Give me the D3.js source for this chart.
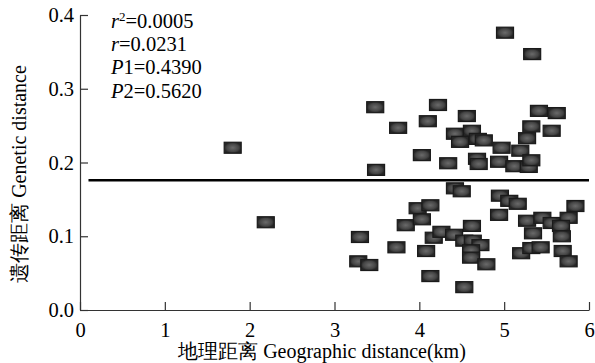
<!DOCTYPE html>
<html>
<head>
<meta charset="utf-8">
<script src="https://cdn.jsdelivr.net/npm/d3@7/dist/d3.min.js"></script>
<style>
  body { margin: 0; background: #fff; }
  text { font-family: "Liberation Serif", "Times New Roman", serif; fill: #000; }
</style>
</head>
<body>
<div id="chart"></div>
<script>
// DATA: geographic distance (km) vs genetic distance
const upperX = [1.80, 3.48, 3.49, 3.75, 4.03, 4.10, 4.22, 4.34, 4.42, 4.48, 4.56, 4.62, 4.69, 4.76, 4.68,
  4.70, 4.94, 4.97, 5.01, 5.12, 5.19, 5.27, 5.29, 5.32, 5.32, 5.33, 5.41, 5.56, 5.62];
const upperY = [0.220, 0.275, 0.190, 0.247, 0.210, 0.256, 0.278, 0.199, 0.239, 0.228, 0.263, 0.243, 0.232, 0.230, 0.205,
  0.198, 0.201, 0.220, 0.376, 0.195, 0.216, 0.233, 0.194, 0.249, 0.203, 0.347, 0.270, 0.243, 0.267];
const lowerX = [2.19, 3.30, 3.28, 3.41, 3.73, 3.84, 3.98, 4.13, 4.03, 4.08, 4.13, 4.17, 4.26, 4.41, 4.42,
  4.50, 4.53, 4.62, 4.63, 4.72, 4.61, 4.61, 4.79, 4.53, 4.95, 5.06, 5.16, 4.94, 5.27, 5.45,
  5.56, 5.76, 5.67, 5.68, 5.34, 5.20, 5.32, 5.43, 5.69, 5.76, 5.84];
const lowerY = [0.119, 0.099, 0.066, 0.061, 0.085, 0.115, 0.138, 0.142, 0.123, 0.080, 0.046, 0.098, 0.106, 0.102, 0.165,
  0.161, 0.094, 0.114, 0.094, 0.088, 0.081, 0.071, 0.062, 0.031, 0.155, 0.148, 0.144, 0.129, 0.121, 0.125,
  0.118, 0.125, 0.114, 0.100, 0.104, 0.077, 0.084, 0.085, 0.080, 0.066, 0.141];
const regX = [0.1, 6.0];
const regY = [0.176, 0.176];
const xTicks = [0, 1, 2, 3, 4, 5, 6];
const yTicks = [0.0, 0.1, 0.2, 0.3, 0.4];
const stats = [
  { sym: 'r', sup: '2', val: '=0.0005' },
  { sym: 'r', sup: '', val: '=0.0231' },
  { sym: 'P', sup: '', val: '1=0.4390' },
  { sym: 'P', sup: '', val: '2=0.5620' },
];

const W = 595, H = 363;
const m = { top: 15, right: 6, bottom: 53, left: 80 };

const svg = d3.select('#chart').append('svg').attr('width', W).attr('height', H);

// MARKER GRADIENT
const defs = svg.append('defs');
const grad = defs.append('radialGradient').attr('id', 'mk');
grad.append('stop').attr('offset', '0%').attr('stop-color', '#6a6a6a');
grad.append('stop').attr('offset', '70%').attr('stop-color', '#454545');
grad.append('stop').attr('offset', '100%').attr('stop-color', '#262626');

// SCALES
const x = d3.scaleLinear().domain([0, 6]).range([m.left, W - m.right]);
const y = d3.scaleLinear().domain([0, 0.4]).range([H - m.bottom, m.top]);

// AXES
const gx = svg.append('g')
  .attr('transform', `translate(0,${y(0)})`)
  .call(d3.axisBottom(x).tickValues(xTicks).tickFormat(d3.format('d')).tickSizeInner(-8).tickSizeOuter(0).tickPadding(12));
const gy = svg.append('g')
  .attr('transform', `translate(${x(0)},0)`)
  .call(d3.axisLeft(y).tickValues(yTicks).tickFormat(d3.format('.1f')).tickSizeInner(-8).tickSizeOuter(0).tickPadding(6));

[gx, gy].forEach(g => {
  g.select('.domain').attr('stroke', '#333').attr('stroke-width', 1.2);
  g.selectAll('.tick line').attr('stroke', '#333').attr('stroke-width', 1.2);
  g.selectAll('.tick text').attr('font-family', '"Liberation Serif", serif').attr('font-size', 20.5).attr('fill', '#000');
});

// POINTS
const pts = upperX.map((v, i) => [v, upperY[i]]).concat(lowerX.map((v, i) => [v, lowerY[i]]));
const mw = 17, mh = 11;
svg.append('g')
  .selectAll('rect')
  .data(pts)
  .enter()
  .append('rect')
  .attr('x', d => x(d[0]) - mw / 2)
  .attr('y', d => y(d[1]) - mh / 2)
  .attr('width', mw)
  .attr('height', mh)
  .attr('fill', 'url(#mk)')
  .attr('stroke', '#1a1a1a')
  .attr('stroke-width', 1.2);

// REGRESSION LINE
svg.append('line')
  .attr('x1', x(regX[0])).attr('x2', x(regX[1]))
  .attr('y1', y(regY[0])).attr('y2', y(regY[1]))
  .attr('stroke', '#000')
  .attr('stroke-width', 2.5);

// STATS TEXT
const st = svg.append('g');
stats.forEach((s, i) => {
  const t = st.append('text')
    .attr('x', 111)
    .attr('y', 28 + i * 23.2)
    .attr('font-size', 20.5);
  t.append('tspan').attr('font-style', 'italic').text(s.sym);
  if (s.sup) t.append('tspan').attr('font-size', 13).attr('dy', -7).text(s.sup);
  t.append('tspan').attr('dy', s.sup ? 7 : 0).text(s.val);
});

// AXIS TITLES
svg.append('text')
  .attr('x', 322)
  .attr('y', 358)
  .attr('text-anchor', 'middle')
  .attr('font-size', 20)
  .text('地理距离 Geographic distance(km)');

svg.append('text')
  .attr('transform', `translate(26,174) rotate(-90)`)
  .attr('text-anchor', 'middle')
  .attr('font-size', 20)
  .text('遗传距离 Genetic distance');
</script>
</body>
</html>
